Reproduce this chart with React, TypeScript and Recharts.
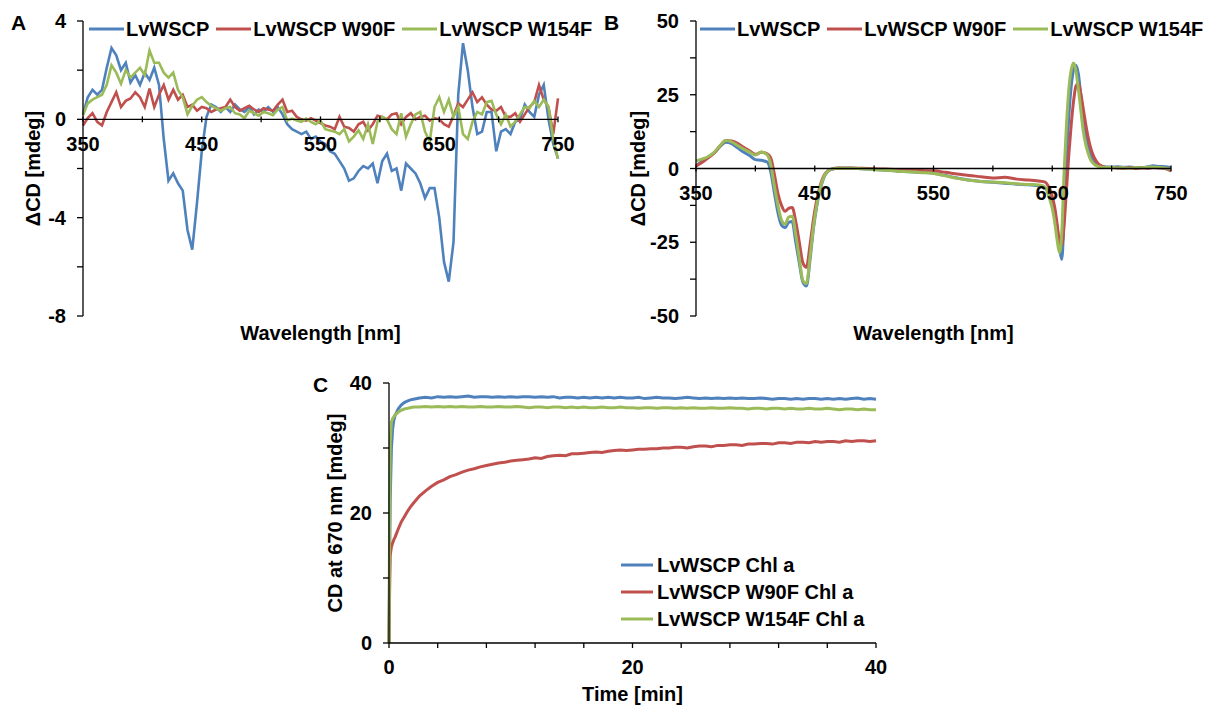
import { Legend, Line, LineChart, ReferenceDot, ReferenceLine, XAxis, YAxis } from "recharts";

const FONT = '"Liberation Sans", Arial, Helvetica, sans-serif';
const BLUE = "#4F81BD";
const RED = "#C0504D";
const GREEN = "#9BBB59";

// A: difference CD spectra
const A_NM = [
  350, 354, 358, 362, 366, 370, 374, 378, 382, 386,
  390, 394, 398, 402, 406, 410, 414, 418, 422, 426,
  430, 434, 438, 442, 446, 450, 454, 458, 462, 466,
  470, 474, 478, 482, 486, 490, 494, 498, 502, 506,
  510, 514, 518, 522, 526, 530, 534, 538, 542, 546,
  550, 554, 558, 562, 566, 570, 574, 578, 582, 586,
  590, 594, 598, 602, 606, 610, 614, 618, 622, 626,
  630, 634, 638, 642, 646, 650, 654, 658, 662, 666,
  670, 674, 678, 682, 686, 690, 694, 698, 702, 706,
  710, 714, 718, 722, 726, 730, 734, 738, 742, 746,
  750,
];
const A_WT = [
  0.2, 0.9, 1.2, 1.0, 1.2, 2.1, 2.9, 2.6, 2.0, 2.3,
  1.5, 1.8, 1.4, 1.9, 1.6, 2.1, 1.4, -0.8, -2.5, -2.2,
  -2.6, -2.9, -4.5, -5.3, -3.4, -1.3, 0.1, 0.6, 0.5, 0.3,
  0.5, 0.3, 0.6, 0.4, 0.3, 0.5, 0.2, 0.4, 0.3, 0.5,
  0.3, 0.5, 0.2, -0.2, -0.4, -0.5, -0.6, -0.5, -0.8, -0.7,
  -0.9, -1.0, -1.3, -1.4, -1.7, -2.0, -2.5, -2.4, -2.1, -1.9,
  -2.0, -1.8, -2.6, -1.7, -1.4, -2.1, -2.0, -2.9, -1.8, -2.0,
  -2.2, -2.6, -3.2, -2.8, -2.8, -4.0, -5.8, -6.6, -5.0, 1.0,
  3.1, 2.0, 0.5, -0.6, -0.5, 0.3, 0.3, -1.3, -0.5, -0.4,
  -0.6, -0.1, 0.0, 0.6, 0.3, 0.1, 1.0, 1.4, 0.0, -1.0,
  -1.6,
];
const A_W90F = [
  -0.25, 0.05, 0.25, -0.1, -0.25, 0.3, 0.7, 1.1, 0.5, 0.75,
  0.85, 1.1, 0.9, 0.5, 1.25, 0.5, 1.0, 1.4, 0.8, 1.2,
  0.8, 1.0, 0.5, 0.6, 0.35, 0.5, 0.45, 0.3, 0.4, 0.45,
  0.5, 0.8, 0.5, 0.35, 0.45, 0.55, 0.4, 0.3, 0.45, 0.4,
  0.35, 0.6, 0.8, 0.3, 0.35, 0.1, 0.0, -0.05, 0.05, -0.05,
  -0.15, -0.25, -0.3, -0.4, 0.1, -0.3, -0.35, -0.5, -0.2, -0.1,
  -0.45, -0.2, 0.15, 0.1, 0.0, 0.2, 0.25, -0.2, 0.1, 0.25,
  0.0, 0.1, 0.15, -0.05, 0.05, 0.0, -0.2, -0.3, 0.15, 0.65,
  0.5, 0.8, 1.1, 0.7, 0.9, 0.6, 0.4, 0.35, 0.5, 0.1,
  0.1, 0.25, -0.1, 0.2, 0.5, 0.7, 1.4, 0.8, 0.5, -0.6,
  0.85,
];
const A_W154F = [
  0.17, 0.65, 0.8, 0.9, 1.0, 1.4, 2.2, 1.9, 1.45, 2.0,
  1.7, 1.9, 2.1, 1.8, 2.8, 2.3, 2.3, 1.9, 1.7, 1.9,
  1.2, 0.9, 0.2, 0.55, 0.8, 0.9, 0.7, 0.55, 0.45, 0.35,
  0.45, 0.5, 0.25, 0.2, 0.05, 0.35, 0.25, 0.15, 0.3, 0.25,
  0.17, 0.4, 0.5, -0.05, 0.03, -0.05, -0.1, 0.03, -0.1, -0.2,
  -0.05, -0.4, -0.45, -0.5, -0.6, -0.4, -0.9, -0.7, -0.45, -0.8,
  -0.2, -1.0, -0.1, 0.1, 0.0, -0.4, -0.6, 0.25, -0.7, -0.2,
  0.2, 0.3, -0.5, -0.9, 0.5, 0.9, 0.3, 0.8, 0.1, 0.5,
  -0.6, -0.8, -0.1, 0.3, 0.2, 0.7, 0.75, 0.2, -0.2, 0.2,
  -0.3, -0.1, 0.2, 0.5, 0.45, 0.75, 0.5, 0.8, 0.5, -0.8,
  -1.6,
];

// B: CD spectra
const B_NM = [
  350, 355, 360, 365, 370, 375, 380, 385, 390, 395, 400, 405, 410,
  413, 416, 419, 422, 425, 428, 431, 434, 437, 440, 443, 446, 449, 452, 455, 458, 461, 464,
  470, 480, 490, 500, 510, 520, 530, 540, 550, 560, 570, 580, 590, 600, 610, 620, 630, 640,
  644, 646, 648, 650, 652, 654, 656, 658, 660, 662, 664, 666, 668, 670, 672, 674, 676, 678,
  680, 682, 684, 686, 688, 690, 692, 694, 696,
  700, 705, 710, 715, 720, 725, 730, 735, 740, 745, 750,
];
const B_WT = [
  1.0, 2.4, 3.8, 5.2, 7.3, 8.9, 8.4, 7.0, 5.6, 4.4, 3.0, 2.8, 2.2,
  -1.2, -8.2, -15.0, -19.2, -20.1, -18.3, -18.0, -25.0, -32.0, -38.5, -39.8, -31.0, -20.0, -12.0, -6.5, -2.8, -1.0, -0.3,
  0.1, 0.1, -0.1, -0.3, -0.6, -0.9, -1.1, -1.3, -1.6, -2.4, -3.2, -3.9, -4.4, -4.7, -5.0, -5.3, -5.5, -5.9,
  -6.5, -7.5, -9.0, -11.0, -14.5, -20.0, -26.5, -30.8, -16.0, 4.0, 18.0, 28.0, 33.5, 35.0, 32.0, 25.0, 18.0, 12.5,
  8.5, 5.5, 3.5, 2.0, 1.2, 0.8, 0.6, 0.5, 0.5,
  0.5, 0.6, 0.4, 0.5, 0.3, 0.3, 0.5, 0.9, 0.7, 0.6, 0.3,
];
const B_W90F = [
  0.8, 2.0, 3.5, 5.2, 7.5, 9.5, 9.3, 8.5, 7.2, 6.0, 4.8, 5.5, 5.0,
  3.5, -2.0, -8.5, -12.5, -14.5, -13.5, -13.2, -18.0, -25.0, -32.0, -33.5, -26.0, -17.0, -10.0, -5.2, -2.2, -0.8, -0.2,
  0.2, 0.2, 0.1, -0.1, -0.2, -0.4, -0.6, -0.7, -0.8, -1.3, -1.9, -2.4, -2.8, -3.2, -3.0, -3.6, -3.9, -4.3,
  -4.6, -5.5, -7.0, -9.5, -13.0, -18.5, -24.5, -26.0, -19.0, -7.0, 5.0, 15.0, 23.0, 28.0, 28.8, 25.5, 20.5, 15.5,
  11.0, 7.5, 5.0, 3.2, 2.0, 1.2, 0.8, 0.5, 0.3,
  0.3, 0.2, 0.1, 0.3, 0.0, 0.2, 0.1, 0.3, 0.2, 0.0, -0.8,
];
const B_W154F = [
  2.6, 3.2, 4.0, 5.4, 7.6, 9.5, 9.0, 7.8, 6.6, 5.6, 4.6, 5.6, 4.6,
  1.2, -6.0, -12.5, -17.5, -18.9, -16.5, -16.2, -22.5, -30.5, -38.0, -39.0, -30.0, -19.5, -11.5, -6.0, -2.6, -0.9, -0.2,
  0.1, 0.1, -0.1, -0.3, -0.6, -0.9, -1.1, -1.4, -1.7, -2.5, -3.3, -4.0, -4.4, -4.6, -4.8, -5.2, -5.4, -5.7,
  -6.3, -8.0, -10.5, -13.5, -18.0, -24.0, -28.5, -22.0, -1.0, 15.0, 27.0, 33.5, 35.8, 33.0, 27.0, 20.0, 13.0, 8.5,
  5.5, 3.2, 2.0, 1.2, 0.8, 0.5, 0.4, 0.3, 0.3,
  0.4, 0.2, 0.3, 0.1, 0.3, 0.2, 0.4, 0.5, 0.3, 0.2, -0.3,
];

// C: CD at 670 nm over time
const C_MIN = [
  0, 0.05, 0.1, 0.2, 0.3, 0.4, 0.5, 0.75, 1, 1.25, 1.5, 1.75,
  2, 2.5, 3, 3.5, 4, 4.5, 5, 5.5, 6, 6.5,
  7, 7.5, 8, 8.5, 9, 9.5, 10, 10.5, 11, 11.5,
  12, 12.5, 13, 13.5, 14, 14.5, 15, 15.5, 16, 16.5,
  17, 17.5, 18, 18.5, 19, 19.5, 20, 20.5, 21, 21.5,
  22, 22.5, 23, 23.5, 24, 24.5, 25, 25.5, 26, 26.5,
  27, 27.5, 28, 28.5, 29, 29.5, 30, 30.5, 31, 31.5,
  32, 32.5, 33, 33.5, 34, 34.5, 35, 35.5, 36, 36.5,
  37, 37.5, 38, 38.5, 39, 39.5, 40,
];
const C_WT = [
  0, 12, 22, 30, 33, 34.3, 35.0, 36.0, 36.6, 37.0, 37.2, 37.4,
  37.5, 37.7, 37.8, 37.7, 37.9, 37.8, 37.9, 37.8, 37.9, 38.0,
  37.8, 37.9, 37.9, 37.8, 37.9, 37.8, 37.9, 37.8, 37.9, 37.9,
  37.8, 37.9, 37.8, 37.9, 37.7, 37.8, 37.8, 37.7, 37.8, 37.7,
  37.8, 37.7, 37.8, 37.7, 37.8, 37.7, 37.7, 37.8, 37.6, 37.7,
  37.8, 37.7, 37.7, 37.6, 37.7, 37.8, 37.7, 37.6, 37.7, 37.6,
  37.7, 37.6, 37.7, 37.6, 37.7, 37.6, 37.6, 37.7, 37.6, 37.5,
  37.6, 37.6, 37.5, 37.6, 37.5, 37.6, 37.6, 37.5, 37.6, 37.5,
  37.6, 37.5, 37.6, 37.7, 37.5, 37.6, 37.5,
];
const C_W90F = [
  0, 8, 13.5, 14.8, 15.4, 15.9, 16.3, 17.5, 18.6, 19.4, 20.2, 20.9,
  21.5, 22.6, 23.4, 24.1, 24.7, 25.1, 25.6, 25.9, 26.3, 26.6,
  26.8, 27.1, 27.3, 27.5, 27.7, 27.8, 28.0, 28.1, 28.2, 28.3,
  28.5, 28.4, 28.7, 28.8, 28.9, 28.8, 29.1, 29.1, 29.2, 29.3,
  29.4, 29.3, 29.5, 29.6, 29.7, 29.6, 29.7, 29.8, 29.8, 29.9,
  29.9, 30.0, 30.0, 30.1, 30.1, 30.0, 30.2, 30.3, 30.3, 30.2,
  30.4, 30.4, 30.5, 30.5, 30.4, 30.6, 30.6, 30.7, 30.7, 30.6,
  30.8, 30.8, 30.7, 30.9, 30.9, 30.8, 31.0, 30.9, 31.0, 31.0,
  30.9, 31.1, 31.0, 31.1, 31.1, 31.0, 31.1,
];
const C_W154F = [
  0, 20, 31, 34, 34.5, 34.8, 35.1, 35.5, 35.8, 36.0, 36.1, 36.2,
  36.3, 36.3, 36.4, 36.3, 36.4, 36.3, 36.4, 36.3, 36.4, 36.3,
  36.3, 36.4, 36.3, 36.3, 36.4, 36.3, 36.3, 36.4, 36.3, 36.2,
  36.3, 36.3, 36.2, 36.3, 36.3, 36.2, 36.3, 36.2, 36.3, 36.2,
  36.2, 36.3, 36.2, 36.2, 36.3, 36.2, 36.2, 36.1, 36.2, 36.2,
  36.1, 36.2, 36.2, 36.1, 36.2, 36.1, 36.2, 36.1, 36.1, 36.2,
  36.1, 36.1, 36.2, 36.1, 36.1, 36.0, 36.1, 36.1, 36.0, 36.1,
  36.1, 36.0, 36.1, 36.0, 36.0, 36.1, 36.0, 36.0, 36.1, 36.0,
  35.9, 36.0, 36.0, 35.9, 36.0, 35.9, 35.9,
];

const SPECTRA_NAMES = ["LvWSCP", "LvWSCP W90F", "LvWSCP W154F"];
const KINETIC_NAMES = ["LvWSCP Chl a", "LvWSCP W90F Chl a", "LvWSCP W154F Chl a"];
const COLORS = [BLUE, RED, GREEN];

const NM_TICKS = [350, 400, 450, 500, 550, 600, 650, 700, 750];
const NM_LABELS = [350, 450, 550, 650, 750];
const A_Y_TICKS = [-8, -6, -4, -2, 0, 2, 4];
const B_Y_TICKS = [-50, -37.5, -25, -12.5, 0, 12.5, 25, 37.5, 50];
const C_X_TICKS = [0, 4, 8, 12, 16, 20, 24, 28, 32, 36, 40];
const C_Y_TICKS = [0, 10, 20, 30, 40];

const dataA = A_NM.map((nm, i) => ({ nm, wt: A_WT[i], w90f: A_W90F[i], w154f: A_W154F[i] }));
const dataB = B_NM.map((nm, i) => ({ nm, wt: B_WT[i], w90f: B_W90F[i], w154f: B_W154F[i] }));
const dataC = C_MIN.map((t, i) => ({ t, wt: C_WT[i], w90f: C_W90F[i], w154f: C_W154F[i] }));

const textStyle = { fontSize: 20, fontWeight: 700, fill: "#000", fontFamily: FONT };
const axisStroke = { stroke: "#000", strokeWidth: 1.3 };
const KEYS = ["wt", "w90f", "w154f"];

function SeriesLegend({ names, vertical }: { names: string[]; vertical?: boolean }) {
  const len = vertical ? 32 : 35;
  return (
    <div style={{ display: "flex", flexDirection: vertical ? "column" : "row", gap: vertical ? 5 : 7 }}>
      {names.map((name, i) => (
        <div key={name} style={{ display: "flex", alignItems: "center", height: 22 }}>
          <svg width={len} height={6} style={{ display: "block" }}>
            <line x1={0} y1={3} x2={len} y2={3} stroke={COLORS[i]} strokeWidth={3} />
          </svg>
          <span
            style={{
              marginLeft: vertical ? 4 : 2,
              fontFamily: FONT,
              fontSize: 20,
              fontWeight: 700,
              color: "#000",
              lineHeight: "22px",
              whiteSpace: "nowrap",
            }}
          >
            {name}
          </span>
        </div>
      ))}
    </div>
  );
}

// x axis drawn through y = 0, with ticks and labels placed by the chart scales
function zeroAxis(tickHalf: number) {
  return [
    <ReferenceLine key="zero" y={0} stroke="#000" strokeWidth={1.3} />,
    ...NM_TICKS.map((t) => (
      <ReferenceLine
        key={`tick-${t}`}
        segment={[{ x: t, y: tickHalf }, { x: t, y: -tickHalf }]}
        stroke="#000"
        strokeWidth={1.3}
      />
    )),
    ...NM_LABELS.map((t) => (
      <ReferenceDot
        key={`label-${t}`}
        x={t}
        y={0}
        r={0}
        fill="none"
        stroke="none"
        label={{ value: String(t), position: "bottom", offset: 17, ...textStyle }}
      />
    )),
  ];
}

function SpectrumPanel({
  data,
  domain,
  ticks,
  labelStep,
  yAxisWidth,
  titleOffset,
  tickHalf,
  legendLeft,
  strokeWidth,
  smooth,
}: {
  data: typeof dataA;
  domain: [number, number];
  ticks: number[];
  labelStep: number;
  yAxisWidth: number;
  titleOffset: number;
  tickHalf: number;
  legendLeft: number;
  strokeWidth: number;
  smooth: boolean;
}) {
  const width = yAxisWidth + 475 + 38;
  return (
    <LineChart width={width} height={350} data={data} margin={{ top: 21, right: 38, bottom: 4, left: 0 }}>
      <XAxis
        type="number"
        dataKey="nm"
        domain={[350, 750]}
        ticks={NM_TICKS}
        tick={false}
        tickLine={false}
        axisLine={false}
        height={30}
        label={{ value: "Wavelength [nm]", position: "insideBottom", offset: 6, ...textStyle }}
      />
      <YAxis
        type="number"
        domain={domain}
        ticks={ticks}
        interval={0}
        tickFormatter={(v: number) => (v % labelStep === 0 ? String(v) : "")}
        width={yAxisWidth}
        tick={textStyle}
        tickSize={6}
        tickMargin={11}
        axisLine={axisStroke}
        tickLine={axisStroke}
        label={{
          value: "ΔCD [mdeg]",
          angle: -90,
          position: "insideLeft",
          offset: titleOffset,
          style: { textAnchor: "middle" },
          ...textStyle,
        }}
      />
      {KEYS.map((k, i) => (
        <Line
          key={k}
          dataKey={k}
          type={smooth ? "monotone" : "linear"}
          stroke={COLORS[i]}
          strokeWidth={strokeWidth}
          dot={false}
          activeDot={false}
          isAnimationActive={false}
        />
      ))}
      {zeroAxis(tickHalf)}
      <Legend
        layout="horizontal"
        verticalAlign="middle"
        align="center"
        content={<SeriesLegend names={SPECTRA_NAMES} />}
        wrapperStyle={{ left: legendLeft, top: 18, width: 520 }}
      />
    </LineChart>
  );
}

function KineticsPanel() {
  return (
    <LineChart width={600} height={346} data={dataC} margin={{ top: 23, right: 24, bottom: 2, left: 0 }}>
      <XAxis
        type="number"
        dataKey="t"
        domain={[0, 40]}
        ticks={C_X_TICKS}
        interval={0}
        tickFormatter={(v: number) => (v % 20 === 0 ? String(v) : "")}
        tick={textStyle}
        tickSize={5}
        tickMargin={12}
        axisLine={axisStroke}
        tickLine={axisStroke}
        height={61}
        label={{ value: "Time [min]", position: "insideBottom", offset: 3, ...textStyle }}
      />
      <YAxis
        type="number"
        domain={[0, 40]}
        ticks={C_Y_TICKS}
        interval={0}
        tickFormatter={(v: number) => (v % 20 === 0 ? String(v) : "")}
        width={89}
        tick={textStyle}
        tickSize={6}
        tickMargin={11}
        axisLine={axisStroke}
        tickLine={axisStroke}
        label={{
          value: "CD at 670 nm [mdeg]",
          angle: -90,
          position: "insideLeft",
          offset: 35,
          style: { textAnchor: "middle" },
          ...textStyle,
        }}
      />
      {KEYS.map((k, i) => (
        <Line
          key={k}
          dataKey={k}
          type="linear"
          stroke={COLORS[i]}
          strokeWidth={3}
          dot={false}
          activeDot={false}
          isAnimationActive={false}
        />
      ))}
      <Legend
        layout="vertical"
        verticalAlign="middle"
        align="center"
        content={<SeriesLegend names={KINETIC_NAMES} vertical />}
        wrapperStyle={{ left: 321, top: 194, width: 260 }}
      />
    </LineChart>
  );
}

export default function App() {
  return (
    <div
      style={{
        position: "absolute",
        left: 0,
        top: 0,
        width: 1209,
        height: 706,
        background: "#fff",
        fontFamily: FONT,
        overflow: "hidden",
      }}
    >
      <div style={{ position: "absolute", left: 0, top: 0 }}>
        <SpectrumPanel
          data={dataA}
          domain={[-8, 4]}
          ticks={A_Y_TICKS}
          labelStep={4}
          yAxisWidth={83}
          titleOffset={33}
          tickHalf={0.12}
          legendLeft={89}
          strokeWidth={2.6}
          smooth={false}
        />
      </div>
      <div style={{ position: "absolute", left: 600, top: 0 }}>
        <SpectrumPanel
          data={dataB}
          domain={[-50, 50]}
          ticks={B_Y_TICKS}
          labelStep={25}
          yAxisWidth={96}
          titleOffset={38}
          tickHalf={1}
          legendLeft={100}
          strokeWidth={3}
          smooth
        />
      </div>
      <div style={{ position: "absolute", left: 300, top: 360 }}>
        <KineticsPanel />
      </div>
      <svg width={1209} height={706} style={{ position: "absolute", left: 0, top: 0, pointerEvents: "none" }}>
        <text x={11} y={30} fontSize={21} fontWeight={700} fontFamily={FONT}>A</text>
        <text x={604} y={30} fontSize={21} fontWeight={700} fontFamily={FONT}>B</text>
        <text x={313} y={392} fontSize={21} fontWeight={700} fontFamily={FONT}>C</text>
      </svg>
    </div>
  );
}
